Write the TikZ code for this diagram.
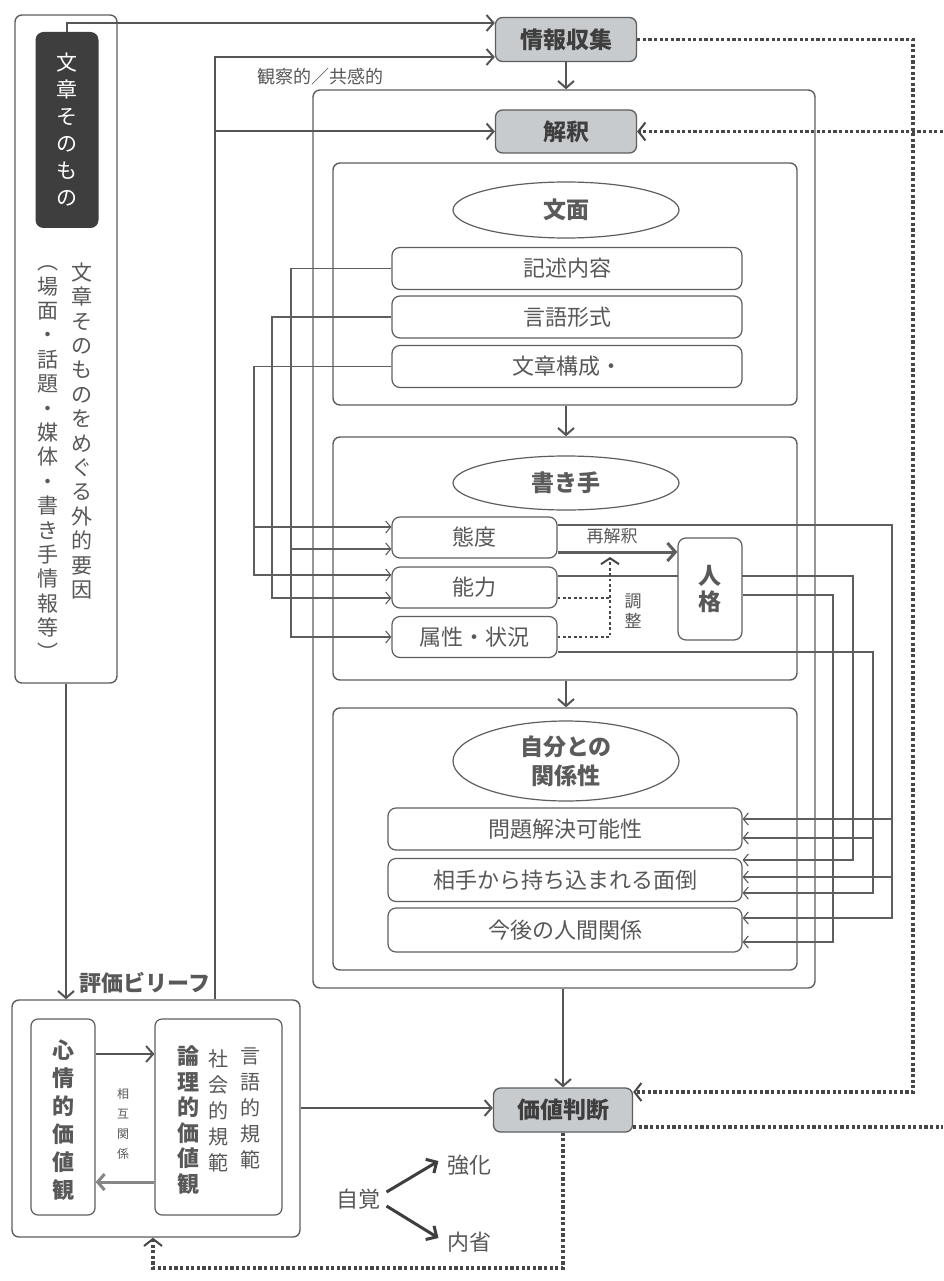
\documentclass[tikz,border=0pt]{standalone}
\usepackage{fontspec}
\setmainfont{Noto Sans CJK JP}
\usetikzlibrary{arrows.meta,shapes.geometric,backgrounds,calc}
\definecolor{ln}{HTML}{5E5E5E}
\definecolor{tx}{HTML}{585858}
\definecolor{gfill}{HTML}{C8CBCD}
\definecolor{dk}{HTML}{3E3E3E}
\definecolor{dotc}{HTML}{474747}
\begin{document}
\begin{tikzpicture}[x=1pt,y=-1pt,
  every node/.style={text=tx},
  panel/.style={draw=ln, line width=1.4pt, rounded corners=7pt, inner sep=0pt},
  itembox/.style={draw=ln, line width=1.2pt, rounded corners=8pt, fill=white, inner sep=0pt, minimum height=42pt, font=\fontsize{22}{26}\selectfont},
  gnode/.style={draw=ln, line width=1.3pt, rounded corners=7pt, fill=gfill, inner sep=0pt, minimum width=141pt, minimum height=44pt, font=\fontsize{23}{26}\selectfont\bfseries, text=dk},
  ell/.style={ellipse, draw=ln, line width=1.2pt, inner sep=0pt, minimum width=226pt, font=\fontsize{23}{29}\selectfont\bfseries, text=dk!85, align=center},
  vtext/.style={align=center, inner sep=0pt},
  wire/.style={draw=ln, line width=1.1pt},
  barb/.style={-{Straight Barb[length=5pt,width=12pt,line width=1.1pt]}},
  mainarrow/.style={draw=ln!90!black, line width=2pt, -{Straight Barb[length=7pt,width=16pt]}},
  dotline/.style={draw=dotc, line width=3.4pt, dash pattern=on 3.2pt off 2.4pt},
  smalldot/.style={draw=dotc, line width=2.8pt, dash pattern=on 2.8pt off 2.6pt},
  dotarrow/.style={-{Straight Barb[length=7pt,width=18pt,line width=2pt]}},
]
\useasboundingbox (0,0) rectangle (943,1281);

% left column
\node[panel, minimum width=102pt, minimum height=668pt] (ext) at (66,349) {};
\node[fill=dk, rounded corners=8pt, minimum width=63pt, minimum height=196pt, inner sep=0pt, text=white, align=center, font=\fontsize{21}{27}\selectfont] (self) at (67,130) {文\\章\\そ\\の\\も\\の};
\node[vtext, font=\fontsize{21}{24.4}\selectfont] (extA) at (82,431) {文\\章\\そ\\の\\も\\の\\を\\め\\ぐ\\る\\外\\的\\要\\因};
\node[vtext, font=\fontsize{21}{24.4}\selectfont] (extB) at (48,463) {︵\\場\\面\\・\\話\\題\\・\\媒\\体\\・\\書\\き\\手\\情\\報\\等\\︶};

% top gray nodes and big box
\node[gnode] (info) at (566,39.5) {情報収集};
\node[panel, minimum width=502pt, minimum height=898pt] (big) at (564,539) {};
\node[gnode, minimum height=43pt] (kai) at (566,131.5) {解釈};
\node[font=\fontsize{18}{20}\selectfont] (kansatsu) at (320,77) {観察的／共感的};

% section 1
\node[panel, minimum width=464pt, minimum height=242pt] (s1) at (565,284) {};
\node[ell, minimum height=56pt] (e1) at (566,210) {文面};
\node[itembox, minimum width=350pt] (b1) at (567,268.5) {記述内容};
\node[itembox, minimum width=350pt] (b2) at (567,317) {言語形式};
\node[itembox, minimum width=350pt] (b3) at (567,366.5) {文章構成・};

% section 2
\node[panel, minimum width=464pt, minimum height=243pt] (s2) at (565,558.5) {};
\node[ell, minimum height=54pt] (e2) at (566,483) {書き手};
\node[itembox, minimum width=165pt, minimum height=41pt] (t1) at (474.5,537.5) {態度};
\node[itembox, minimum width=165pt, minimum height=41pt] (t2) at (474.5,587.5) {能力};
\node[itembox, minimum width=165pt, minimum height=41pt] (t3) at (474.5,637) {属性・状況};
\node[itembox, minimum width=64pt, minimum height=102pt, align=center, font=\fontsize{23}{26}\selectfont\bfseries] (jin) at (710,589) {人\\格};
\node[font=\fontsize{17}{20}\selectfont] (sai) at (612,536) {再解釈};
\node[vtext, font=\fontsize{17}{20}\selectfont] (chosei) at (633,611) {調\\整};

% section 3
\node[panel, minimum width=464pt, minimum height=262pt] (s3) at (565,839) {};
\node[ell, minimum height=80pt] (e3) at (566,761) {自分との\\関係性};
\node[itembox, minimum width=354pt] (c1) at (565,829) {問題解決可能性};
\node[itembox, minimum width=354pt, minimum height=43pt] (c2) at (565,880) {相手から持ち込まれる面倒};
\node[itembox, minimum width=354pt, minimum height=44pt] (c3) at (565,930) {今後の人間関係};

% value judgement
\node[gnode, minimum width=139pt, minimum height=44pt, font=\fontsize{23}{26}\selectfont\bfseries] (kachi) at (563,1110) {価値判断};

% belief box
\node[panel, minimum width=288pt, minimum height=237pt] (hyo) at (156,1118.5) {};
\node[anchor=west, font=\fontsize{22}{24}\selectfont\bfseries] (hyolbl) at (76,983) {評価ビリーフ};
\node[panel, line width=1.2pt, minimum width=64pt, minimum height=196pt] (shin) at (63,1117) {};
\node[vtext, font=\fontsize{22}{28}\selectfont\bfseries] (shintx) at (63,1120) {心\\情\\的\\価\\値\\観};
\node[panel, line width=1.2pt, minimum width=127pt, minimum height=196pt] (ron) at (218.5,1117) {};
\node[vtext, font=\fontsize{22}{25.5}\selectfont\bfseries] (rontx) at (188,1120) {論\\理\\的\\価\\値\\観};
\node[vtext, font=\fontsize{20}{26}\selectfont] (shakai) at (218,1111) {社\\会\\的\\規\\範};
\node[vtext, font=\fontsize{20}{26}\selectfont] (gengo) at (250,1108) {言\\語\\的\\規\\範};
\node[vtext, font=\fontsize{12}{20}\selectfont] (sogo) at (123,1124) {相\\互\\関\\係};

% awareness
\node[font=\fontsize{22}{24}\selectfont] (jikaku) at (358,1199) {自覚};
\node[font=\fontsize{22}{24}\selectfont] (kyoka) at (469,1165) {強化};
\node[font=\fontsize{22}{24}\selectfont] (naisei) at (469,1242) {内省};

% ---------------- connectors ----------------
\begin{scope}[on background layer]
\fill[white] (0,0) rectangle (943,1281);
% left wiring
\draw[wire,barb] (b1.west) -- (291,268.5) -- (291,637) -- (t3.west);
\draw[wire,barb] (291,549) -- (t1.west |- 0,549);
\draw[wire,barb] (b2.west) -- (272,317) -- (272,598) -- (t2.west |- 0,598);
\draw[wire,barb] (b3.west) -- (254,366.5) -- (254,575) -- (t2.west |- 0,575);
\draw[wire,barb] (254,527) -- (t1.west |- 0,527);
% right wiring
\draw[wire,barb] (t1.east |- 0,525) -- (892,525) -- (892,918) -- (c3.east |- 0,918);
\draw[wire,barb] (892,819) -- (c1.east |- 0,819);
\draw[wire,barb] (892,877) -- (c2.east |- 0,877);
\draw[wire,barb] (t2.east |- 0,576) -- (853,576) -- (853,860) -- (c2.east |- 0,860);
\draw[wire,barb] (jin.east |- 0,595) -- (833,595) -- (833,942) -- (c3.east |- 0,942);
\draw[wire,barb] (t3.east |- 0,652) -- (873,652) -- (873,893) -- (c2.east |- 0,893);
\draw[wire,barb] (873,838) -- (c1.east |- 0,838);
\end{scope}

% main arrows
\draw[mainarrow] (self.north) -- (67,23) -- (info.west |- 0,23);
\draw[mainarrow] (hyo.north -| 215,0) -- (215,57) -- (info.west |- 0,57);
\draw[mainarrow] (215,131.5) -- (kai.west);
\draw[mainarrow] (ext.south) -- (hyo.north -| ext.south);
\draw[mainarrow] (info.south) -- (big.north -| info.south);
\draw[mainarrow] (s1.south -| 566,0) -- (s2.north -| 566,0);
\draw[mainarrow] (s2.south -| 566,0) -- (s3.north -| 566,0);
\draw[mainarrow] (big.south -| kachi.north) -- (kachi.north);
\draw[mainarrow] (hyo.east |- 0,1108) -- (kachi.west |- 0,1108);
\draw[mainarrow] (shin.east |- 0,1054) -- (ron.west |- 0,1054);
\draw[mainarrow, draw=ln!75, line width=3pt] (ron.west |- 0,1182) -- (shin.east |- 0,1182);
\draw[ln, line width=3pt, -{Straight Barb[length=8pt,width=18pt]}] (t1.east |- 0,552) -- (jin.west |- 0,552);
\draw[draw=dk, line width=3pt, -{Straight Barb[length=8pt,width=16pt]}] ($(jikaku.east)+(3,-7)$) -- ($(kyoka.west)+(-5,-4)$);
\draw[draw=dk, line width=3pt, -{Straight Barb[length=8pt,width=16pt]}] ($(jikaku.east)+(3,7)$) -- ($(naisei.west)+(-5,-4)$);

% adjustment dotted
\draw[smalldot] (t2.east |- 0,598) -- (610,598);
\draw[smalldot, -{Straight Barb[length=6pt,width=18pt,line width=2pt]}] (t3.east |- 0,637) -- (610,637) -- (610,557);

% big dotted loops
\draw[dotline, dotarrow] (info.east) -- (913,39.5) -- (913,1092) -- (kachi.east |- 0,1092);
\draw[dotline, dotarrow] (943,131.5) -- (kai.east);
\draw[dotline] (kachi.east |- 0,1127) -- (943,1127);
\draw[dotline, dotarrow] (kachi.south) -- (563,1268) -- (153,1268) -- (hyo.south -| 153,0);
\end{tikzpicture}
\end{document}
